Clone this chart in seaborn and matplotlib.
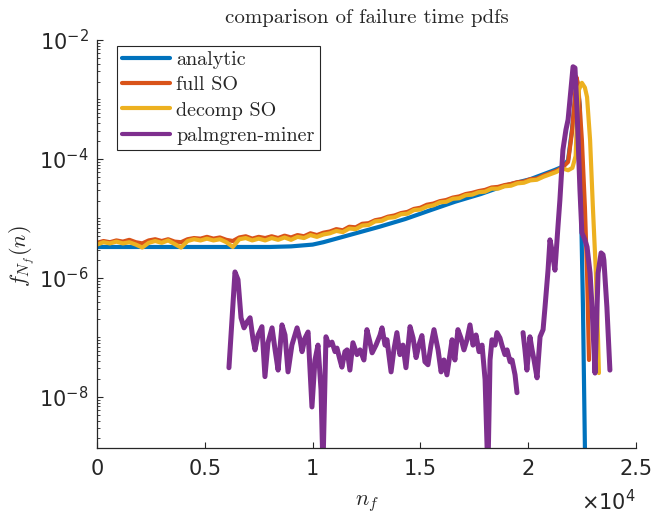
import matplotlib
matplotlib.use('Agg')
import matplotlib.pyplot as plt
from matplotlib.ticker import FixedLocator, LogLocator, FuncFormatter, NullFormatter
import numpy as np
import pandas as pd
import seaborn as sns

sns.set_theme(style="ticks")
plt.rcParams['font.family'] = ['DejaVu Sans']

# --- data (n in cycles, values as log10 of the pdf) ---
analytic_n = [0, 2000, 4000, 6000, 8000, 9000, 10000, 10500, 11700, 13100, 14300,
              15400, 16600, 17800, 18900, 20100, 21200, 21600, 21850, 22030, 22170,
              22260, 22400, 22450, 22540, 22630, 22680]
analytic_log = [-5.48, -5.48, -5.48, -5.48, -5.48, -5.47, -5.44, -5.40, -5.28, -5.14, -5.01,
                -4.87, -4.72, -4.59, -4.45, -4.34, -4.19, -4.13, -4.02, -3.51, -3.01,
                -2.67, -3.13, -4.81, -6.49, -8.84, -9.70]

so_grid = [0, 300, 600, 900, 1200, 1500, 1800, 2100, 2400, 2700, 3000, 3300, 3600, 3900,
           4200, 4500, 4800, 5100, 5400, 5700, 6000, 6300, 6600, 6900, 7200, 7500, 7800,
           8100, 8400, 8700, 9000, 9300, 9600, 9900, 10200, 10500, 10800, 11100, 11400,
           11700, 12000, 12300, 12600, 12900, 13200, 13500, 13800, 14100, 14400, 14700,
           15000, 15300, 15600, 15900, 16200, 16500, 16800, 17100, 17400, 17700, 18000,
           18300, 18600, 18900, 19200, 19500, 19800, 20100, 20400, 20700, 21000, 21300,
           21600]

full_so_n = so_grid + [21850, 22030, 22150, 22230, 22320, 22490, 22630, 22730, 22820]
full_so_log = [-5.41, -5.38, -5.40, -5.37, -5.39, -5.36, -5.40, -5.42, -5.37, -5.35, -5.38,
               -5.35, -5.39, -5.40, -5.35, -5.33, -5.34, -5.31, -5.34, -5.32, -5.36, -5.38,
               -5.32, -5.30, -5.34, -5.31, -5.33, -5.30, -5.33, -5.29, -5.32, -5.28, -5.30,
               -5.25, -5.28, -5.24, -5.22, -5.18, -5.20, -5.14, -5.15, -5.09, -5.08, -5.03,
               -5.01, -4.97, -4.95, -4.91, -4.89, -4.84, -4.82, -4.77, -4.75, -4.71, -4.69,
               -4.65, -4.63, -4.59, -4.57, -4.54, -4.52, -4.48, -4.47, -4.44, -4.42, -4.39,
               -4.38, -4.34, -4.33, -4.28, -4.24, -4.20, -4.14,
               -4.05, -3.55, -3.05, -2.62, -2.75, -3.68, -4.81, -5.92, -7.38]

decomp_so_n = so_grid + [21850, 22050, 22200, 22260, 22350, 22490, 22630, 22730, 22870,
                         23000, 23140, 23240, 23280]
decomp_so_log = [-5.44, -5.40, -5.42, -5.39, -5.42, -5.40, -5.44, -5.49, -5.41, -5.38,
                 -5.41, -5.37, -5.43, -5.49, -5.38, -5.35, -5.37, -5.34, -5.37, -5.35,
                 -5.40, -5.48, -5.35, -5.33, -5.37, -5.34, -5.37, -5.33, -5.36, -5.32,
                 -5.36, -5.31, -5.33, -5.28, -5.31, -5.27, -5.25, -5.21, -5.23, -5.17,
                 -5.18, -5.12, -5.11, -5.05, -5.04, -4.99, -4.98, -4.93, -4.92, -4.86,
                 -4.85, -4.80, -4.78, -4.73, -4.72, -4.67, -4.66, -4.61, -4.60, -4.56,
                 -4.55, -4.50, -4.50, -4.46, -4.45, -4.41, -4.40, -4.36, -4.35, -4.30,
                 -4.26, -4.22, -4.16,
                 -4.19, -4.15, -3.95, -3.34, -2.84, -2.72, -2.80, -2.96, -3.68, -4.81,
                 -5.92, -7.04, -7.60]

# palmgren-miner is drawn in two pieces (no value between them)
pm_n_a = [6120, 6260, 6400, 6540, 6680, 6820, 6960, 7100, 7240, 7330, 7470, 7650, 7790,
          7930, 8120, 8260, 8400, 8580, 8720, 8860, 9040, 9280, 9420, 9510, 9650, 9790,
          9970, 10110, 10250, 10390, 10480, 10620, 10760, 10900, 11040, 11130, 11270,
          11360, 11500, 11600, 11730, 11870, 12060, 12200, 12380, 12520, 12660, 12760,
          12940, 13130, 13220, 13360, 13450, 13640, 13770, 13910, 14050, 14190, 14330,
          14520, 14660, 14800, 14930, 15070, 15210, 15350, 15490, 15630, 15820, 15960,
          16090, 16230, 16370, 16470, 16600, 16740, 16880, 17020, 17160, 17300, 17440,
          17580, 17720, 17860, 18000, 18130, 18230, 18320, 18460, 18550, 18690, 18780,
          18920, 19020, 19160, 19250, 19390, 19480]
pm_log_a = [-7.51, -6.71, -5.90, -6.03, -6.67, -6.84, -6.74, -6.67, -7.04, -7.21, -6.96,
            -6.82, -7.66, -7.09, -6.84, -7.21, -7.55, -6.79, -6.96, -7.58, -7.13, -6.84,
            -7.04, -7.24, -7.01, -6.91, -8.17, -7.38, -7.13, -7.88, -9.20, -6.99, -7.13,
            -7.08, -7.24, -7.18, -7.38, -7.50, -7.24, -7.21, -7.55, -7.09, -7.29, -7.21,
            -7.38, -6.87, -7.08, -7.26, -7.13, -6.96, -6.84, -7.13, -7.04, -7.58, -7.21,
            -6.92, -7.29, -7.13, -7.51, -6.82, -7.01, -7.34, -7.13, -6.97, -7.41, -7.46,
            -7.13, -6.87, -7.21, -7.58, -7.38, -7.63, -7.29, -7.04, -7.38, -6.87, -7.01,
            -7.21, -7.04, -6.79, -7.13, -6.96, -7.24, -7.13, -7.71, -9.30, -7.38, -7.04,
            -7.13, -6.92, -7.01, -7.13, -7.29, -7.21, -7.41, -7.38, -7.63, -7.93]
pm_n_b = [19760, 19850, 19940, 20080, 20180, 20270, 20410, 20550, 20690, 20780, 20920,
          21010, 21100, 21240, 21380, 21470, 21610, 21750, 21850, 21980, 22080, 22170,
          22260, 22400, 22490, 22630, 22730, 22870, 22960, 23100, 23190, 23240, 23380,
          23470, 23510, 23650, 23790]
pm_log_b = [-6.92, -7.21, -7.55, -6.99, -7.21, -7.38, -7.68, -6.99, -6.87, -6.49, -5.87,
            -5.36, -5.53, -5.87, -5.14, -4.69, -3.85, -3.51, -3.34, -2.84, -2.45, -2.47,
            -3.13, -4.52, -5.24, -5.36, -5.48, -5.92, -6.49, -7.60, -6.54, -5.92, -5.58,
            -5.61, -5.70, -6.49, -7.55]

colors = {'analytic': '#0072BD', 'full SO': '#D95319',
          'decomp SO': '#EDB120', 'palmgren-miner': '#7E2F8E'}

def frame(n, logv):
    return pd.DataFrame({'n': n, 'f': 10.0 ** np.array(logv)})

fig = plt.figure(figsize=(6.55, 5.16), dpi=100)
ax = fig.add_axes([97 / 655, 68 / 516, 539 / 655, 408 / 516])

line_kw = dict(x='n', y='f', estimator=None, sort=False, ax=ax,
               solid_capstyle='round', solid_joinstyle='round')
sns.lineplot(data=frame(analytic_n, analytic_log), color=colors['analytic'],
             linewidth=3, label='analytic', **line_kw)
sns.lineplot(data=frame(full_so_n, full_so_log), color=colors['full SO'],
             linewidth=3, label='full SO', **line_kw)
sns.lineplot(data=frame(decomp_so_n, decomp_so_log), color=colors['decomp SO'],
             linewidth=3, label='decomp SO', **line_kw)
sns.lineplot(data=frame(pm_n_a, pm_log_a), color=colors['palmgren-miner'],
             linewidth=3.6, label='palmgren-miner', **line_kw)
sns.lineplot(data=frame(pm_n_b, pm_log_b), color=colors['palmgren-miner'],
             linewidth=3.6, **line_kw)

ax.set_yscale('log')
ax.set_xlim(0, 25000)
ax.set_ylim(10 ** -8.86, 1e-2)

# axes styling, MATLAB-like
for side in ['top', 'right']:
    ax.spines[side].set_visible(False)
for side in ['left', 'bottom']:
    ax.spines[side].set_color('#262626')
    ax.spines[side].set_linewidth(0.9)

ax.set_xticks([0, 5000, 10000, 15000, 20000, 25000])
ax.xaxis.set_major_formatter(FuncFormatter(lambda v, p: f'{v / 1e4:g}'))
ax.yaxis.set_major_locator(FixedLocator([1e-8, 1e-6, 1e-4, 1e-2]))
ax.yaxis.set_minor_locator(LogLocator(base=10, subs=np.arange(1, 10), numticks=50))
ax.yaxis.set_minor_formatter(NullFormatter())
ax.tick_params(axis='both', which='both', direction='in', colors='#262626',
               labelsize=15, left=True, bottom=True)
ax.tick_params(axis='both', which='major', length=4, width=0.8)
ax.tick_params(axis='y', which='minor', length=2.2, width=0.6)
ax.tick_params(axis='x', pad=8)
ax.tick_params(axis='y', pad=6)

ax.text(1.0, -0.132, r'$\times\mathdefault{10^{4}}$', transform=ax.transAxes,
        ha='right', va='center', fontsize=15, color='#262626')

ax.set_xlabel(r'$n_f$', math_fontfamily='cm', fontsize=16, color='#262626', labelpad=10)
ax.set_ylabel(r'$f_{N_f}(n)$', math_fontfamily='cm', fontsize=16, color='#262626')
ax.yaxis.set_label_coords(-0.112, 0.47)
ax.set_title('comparison of failure time pdfs', fontfamily='cmr10', fontsize=15,
             color='#262626', pad=12)

leg = ax.legend(loc='upper left', bbox_to_anchor=(0.037, 0.985),
                prop={'family': 'cmr10', 'size': 14.5}, frameon=True, fancybox=False,
                edgecolor='#262626', framealpha=1, borderpad=0.25, borderaxespad=0,
                handlelength=2.4, handletextpad=0.3, labelspacing=0.35)
leg.get_frame().set_linewidth(0.8)
for h in leg.get_lines():
    h.set_linewidth(3)

plt.savefig('out.png', dpi=100)
plt.close()
